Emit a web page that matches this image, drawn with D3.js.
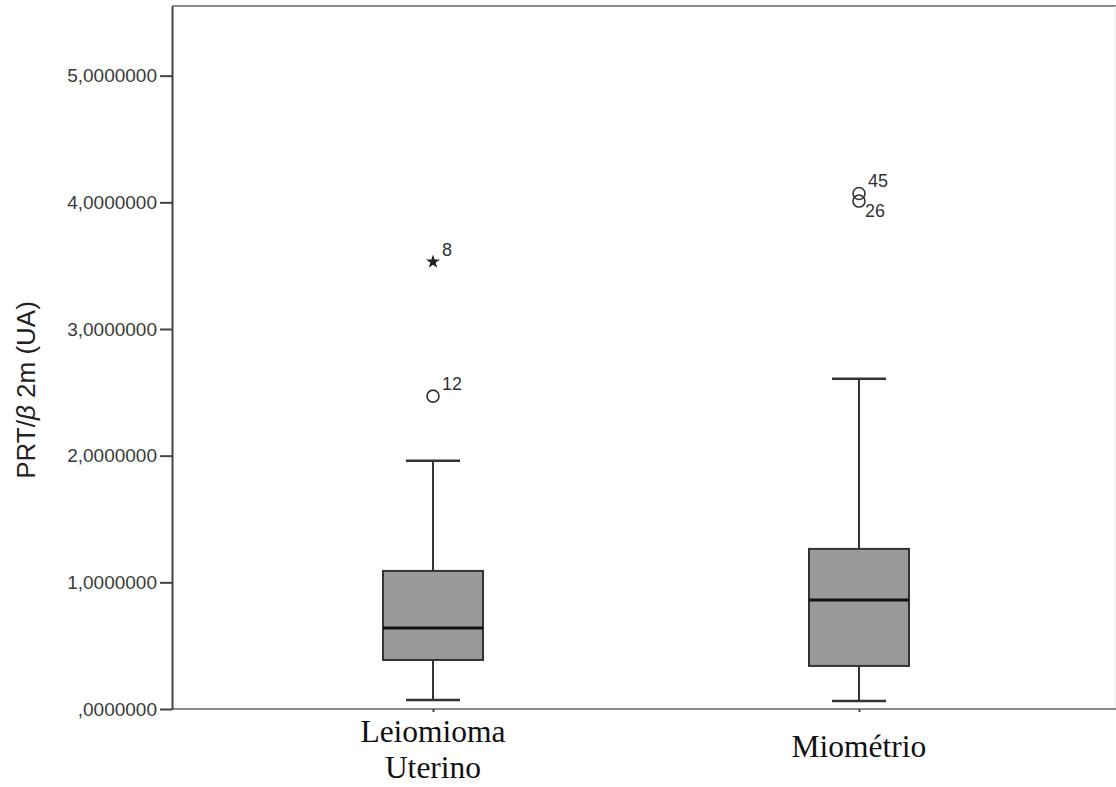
<!DOCTYPE html>
<html><head><meta charset="utf-8">
<script src="https://cdn.jsdelivr.net/npm/d3@7"></script>
<style>body{margin:0;background:#fff} svg{display:block}</style>
</head><body><svg id="c" width="1116" height="787"></svg>
<script>
const categories = ["Leiomioma Uterino", "Miométrio"];
const categoryLines = [["Leiomioma", "Uterino"], ["Miométrio"]];
const whiskerLow = [0.071, 0.063];
const q1 = [0.387, 0.340];
const median = [0.640, 0.861];
const q3 = [1.090, 1.264];
const whiskerHigh = [1.959, 2.607];
const outlierCategory = ["Leiomioma Uterino", "Leiomioma Uterino", "Miométrio", "Miométrio"];
const outlierValue = [3.53, 2.47, 4.07, 4.01];
const outlierCase = ["8", "12", "45", "26"];
const outlierType = ["extreme", "mild", "mild", "mild"];
const yTicks = [0, 1, 2, 3, 4, 5];
const yTickLabels = [",0000000", "1,0000000", "2,0000000", "3,0000000", "4,0000000", "5,0000000"];

const W = 1116, H = 787;
const m = {left: 172, top: 6, bottom: 78};
const svg = d3.select("#c");
const y = d3.scaleLinear().domain([0, 5.55]).range([H - m.bottom, m.top]);
const x = d3.scalePoint().domain(categories).range([m.left, 1120]).padding(0.6127);
const boxW = 100, capW = 54;
const sans = "Liberation Sans, Arial, sans-serif";

// frame top and right
svg.append("line").attr("x1", m.left).attr("x2", W).attr("y1", m.top).attr("y2", m.top)
  .attr("stroke", "#8a8a8a").attr("stroke-width", 2);
svg.append("line").attr("x1", W - 1).attr("x2", W - 1).attr("y1", m.top).attr("y2", H - m.bottom)
  .attr("stroke", "#e4e4e4").attr("stroke-width", 1);

// bottom axis
const xAxis = svg.append("g").attr("transform", `translate(0,${H - m.bottom})`)
  .call(d3.axisBottom(x).tickSize(3).tickSizeOuter(0).tickFormat(""));
xAxis.select(".domain").attr("d", `M${m.left},0H${W}`).attr("stroke", "#8a8a8a").attr("stroke-width", 2);
xAxis.selectAll(".tick line").attr("stroke", "#444").attr("stroke-width", 2);

// left axis
const yAxis = svg.append("g").attr("transform", `translate(${m.left},0)`)
  .call(d3.axisLeft(y).tickValues(yTicks).tickSize(12).tickSizeOuter(0).tickPadding(3)
    .tickFormat((d, i) => yTickLabels[i]));
yAxis.select(".domain").attr("stroke", "#444").attr("stroke-width", 2);
yAxis.selectAll(".tick line").attr("stroke", "#444").attr("stroke-width", 2);
yAxis.selectAll(".tick text").attr("font-family", sans)
  .attr("font-size", 19).attr("fill", "#3a3a3a");

// y title
const t = svg.append("text").attr("transform", `translate(35,${390}) rotate(-90)`)
  .attr("text-anchor", "middle").attr("font-family", sans)
  .attr("font-size", 26).attr("fill", "#222");
t.append("tspan").text("PRT/");
t.append("tspan").attr("font-style", "italic").text("β");
t.append("tspan").text(" 2m (UA)");

// boxes
const g = svg.append("g");
categories.forEach((c, i) => {
  const cx = x(c);
  g.append("line").attr("x1", cx).attr("x2", cx).attr("y1", y(whiskerLow[i])).attr("y2", y(q1[i]))
    .attr("stroke", "#333").attr("stroke-width", 2);
  g.append("line").attr("x1", cx).attr("x2", cx).attr("y1", y(q3[i])).attr("y2", y(whiskerHigh[i]))
    .attr("stroke", "#333").attr("stroke-width", 2);
  [whiskerLow[i], whiskerHigh[i]].forEach(v => {
    g.append("line").attr("x1", cx - capW / 2).attr("x2", cx + capW / 2).attr("y1", y(v)).attr("y2", y(v))
      .attr("stroke", "#333").attr("stroke-width", 2.5);
  });
  g.append("rect").attr("x", cx - boxW / 2).attr("width", boxW)
    .attr("y", y(q3[i])).attr("height", y(q1[i]) - y(q3[i]))
    .attr("fill", "#9a9a9a").attr("stroke", "#333").attr("stroke-width", 2);
  g.append("line").attr("x1", cx - boxW / 2).attr("x2", cx + boxW / 2).attr("y1", y(median[i])).attr("y2", y(median[i]))
    .attr("stroke", "#111").attr("stroke-width", 3);
});

// outliers
outlierValue.forEach((v, i) => {
  const cx = x(outlierCategory[i]), cy = y(v);
  if (outlierType[i] === "extreme") {
    g.append("path").attr("d", d3.symbol(d3.symbolStar, 60)())
      .attr("transform", `translate(${cx},${cy})`).attr("fill", "#222");
  } else {
    g.append("circle").attr("cx", cx).attr("cy", cy).attr("r", 6)
      .attr("fill", "none").attr("stroke", "#333").attr("stroke-width", 1.6);
  }
  const closeAbove = outlierValue.some((w, j) => j !== i && outlierCategory[j] === outlierCategory[i] && w > v && (y(v) - y(w)) < 15);
  g.append("text").attr("x", cx + (closeAbove ? 6 : 9)).attr("y", cy + (closeAbove ? 16 : -6))
    .attr("font-family", sans).attr("font-size", 18).attr("fill", "#333")
    .text(outlierCase[i]);
});

// category labels
categories.forEach((c, i) => {
  const lines = categoryLines[i];
  const tx = svg.append("text").attr("text-anchor", "middle")
    .attr("font-family", "Liberation Serif, Times New Roman, serif").attr("font-size", 31.5).attr("fill", "#111");
  const y0 = lines.length > 1 ? 742 : 757;
  lines.forEach((l, k) => tx.append("tspan").attr("x", x(c)).attr("y", y0 + k * 36).text(l));
});
</script></body></html>
